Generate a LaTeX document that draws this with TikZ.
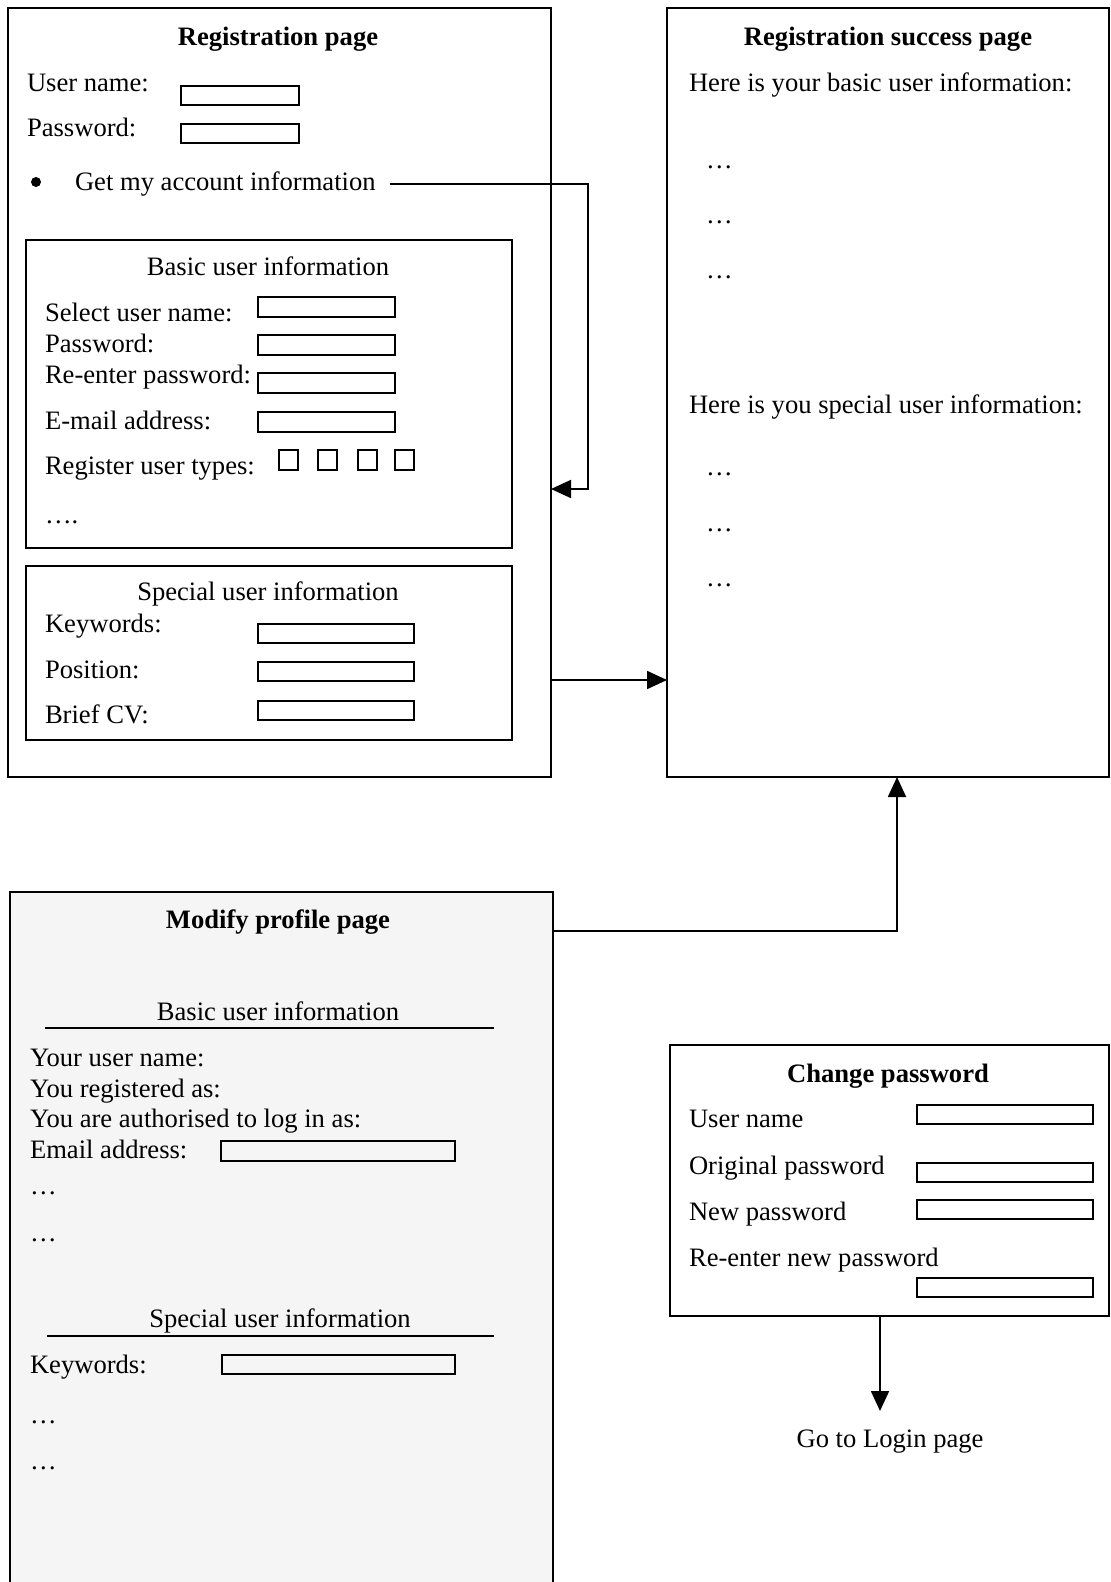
\documentclass[tikz,border=0pt]{standalone}
\usepackage{fontspec}
\setmainfont{Liberation Serif}
\usetikzlibrary{fit,arrows.meta,calc}

\newcommand\fieldbox[3]{\node[field, fit={(#2) (#3)}] (#1) {};}

\begin{document}
\begin{tikzpicture}[x=0.5pt,y=-0.5pt,
  every node/.style={inner sep=0pt, outer sep=0pt, font=\fontsize{13.3}{16}\selectfont},
  page/.style={draw, line width=0.9pt, inner sep=0pt},
  panel/.style={draw, line width=0.9pt, inner sep=0pt},
  field/.style={draw, line width=0.8pt, inner sep=0pt},
  lbl/.style={anchor=mid west, yshift=-2pt},
  ttl/.style={anchor=mid, yshift=-2pt, font=\fontsize{13.3}{16}\selectfont\bfseries},
  sub/.style={anchor=mid, yshift=-2pt},
  rule/.style={line width=0.9pt},
  flow/.style={line width=0.9pt, -{Triangle[length=10pt,width=9pt]}},
  ]
\clip (0,0) rectangle (1111,1582);
\fill[white] (0,0) rectangle (1111,1582);

% ---------------- Registration page ----------------
\node[page, fit={(8,8) (551,777)}] (reg) {};
\node[ttl] (regT) at (278,37) {Registration page};
\node[lbl] (regU) at (27,83) {User name:};
\fieldbox{regUf}{181,86}{299,105}
\node[lbl] (regP) at (27,128) {Password:};
\fieldbox{regPf}{181,124}{299,143}
\node[circle, fill, minimum size=5pt] (bullet) at (36,182) {};
\node[lbl] (gmai) at (75,182) {Get my account information};

% Basic user information panel
\node[panel, fit={(26,240) (512,548)}] (basic) {};
\node[sub] (basicT) at (268,267) {Basic user information};
\node[lbl] (bSel) at (45,313) {Select user name:};
\fieldbox{bSelf}{258,297}{395,317}
\node[lbl] (bPw) at (45,344) {Password:};
\fieldbox{bPwf}{258,335}{395,355}
\node[lbl] (bRe) at (45,375) {Re-enter password:};
\fieldbox{bRef}{258,373}{395,393}
\node[lbl] (bEm) at (45,421) {E-mail address:};
\fieldbox{bEmf}{258,412}{395,432}
\node[lbl] (bTy) at (45,466) {Register user types:};
\fieldbox{ut1}{279,450}{298,470}
\fieldbox{ut2}{318,450}{337,470}
\fieldbox{ut3}{358,450}{377,470}
\fieldbox{ut4}{395,450}{414,470}
\node[lbl] (bMore) at (45,515) {….};

% Special user information panel
\node[panel, fit={(26,566) (512,740)}] (special) {};
\node[sub] (specialT) at (268,592) {Special user information};
\node[lbl] (sKw) at (45,624) {Keywords:};
\fieldbox{sKwf}{258,624}{414,643}
\node[lbl] (sPos) at (45,670) {Position:};
\fieldbox{sPosf}{258,662}{414,681}
\node[lbl] (sCv) at (45,715) {Brief CV:};
\fieldbox{sCvf}{258,701}{414,720}

% ---------------- Registration success page ----------------
\node[page, fit={(667,8) (1109,777)}] (success) {};
\node[ttl] (succT) at (888,37) {Registration success page};
\node[lbl] (succB) at (689,83) {Here is your basic user information:};
\node[lbl] (succB1) at (706,160) {…};
\node[lbl] (succB2) at (706,215) {…};
\node[lbl] (succB3) at (706,270) {…};
\node[lbl] (succS) at (689,405) {Here is you special user information:};
\node[lbl] (succS1) at (706,467) {…};
\node[lbl] (succS2) at (706,523) {…};
\node[lbl] (succS3) at (706,578) {…};

% ---------------- Modify profile page (runs off the bottom) ----------------
\node[page, fill=black!4, fit={(10,892) (553,1600)}] (modify) {};
\node[ttl] (modT) at (278,920) {Modify profile page};
\node[sub] (modBT) at (278,1012) {Basic user information};
\draw[rule] (45,1028) -- (494,1028);
\node[lbl] (mUser) at (30,1058) {Your user name:};
\node[lbl] (mReg) at (30,1089) {You registered as:};
\node[lbl] (mAuth) at (30,1119) {You are authorised to log in as:};
\node[lbl] (mMail) at (30,1150) {Email address:};
\fieldbox{mMailf}{221,1141}{455,1161}
\node[lbl] (mMore1) at (30,1186) {…};
\node[lbl] (mMore2) at (30,1233) {…};
\node[sub] (modST) at (280,1319) {Special user information};
\draw[rule] (47,1336) -- (494,1336);
\node[lbl] (mKw) at (30,1365) {Keywords:};
\fieldbox{mKwf}{222,1355}{455,1374}
\node[lbl] (mMore3) at (30,1415) {…};
\node[lbl] (mMore4) at (30,1461) {…};

% ---------------- Change password ----------------
\node[page, fit={(670,1045) (1109,1316)}] (chg) {};
\node[ttl] (chgT) at (888,1074) {Change password};
\node[lbl] (cUser) at (689,1119) {User name};
\fieldbox{cUserf}{917,1105}{1093,1124}
\node[lbl] (cOrig) at (689,1166) {Original password};
\fieldbox{cOrigf}{917,1163}{1093,1182}
\node[lbl] (cNew) at (689,1212) {New password};
\fieldbox{cNewf}{917,1200}{1093,1219}
\node[lbl] (cRe) at (689,1258) {Re-enter new password};
\fieldbox{cRef}{917,1278}{1093,1297}
\node[sub] (login) at (890,1439) {Go to Login page};

% ---------------- Connectors ----------------
\coordinate (acctTurn) at (588,489);
\draw[flow, shorten <=7pt] (gmai.east) -- (gmai.east -| acctTurn) -- (acctTurn) -- (acctTurn -| reg.east);

\coordinate (regOut) at (0,680);
\draw[flow] (reg.east |- regOut) -- (success.west |- regOut);

\coordinate (modTurn) at (897,931);
\draw[flow] (modify.east |- modTurn) -- (modTurn) -- (success.south -| modTurn);

\coordinate (chgOut) at (880,0);
\coordinate (loginTip) at (880,1411);
\draw[flow] (chg.south -| chgOut) -- (loginTip);
\end{tikzpicture}
\end{document}
